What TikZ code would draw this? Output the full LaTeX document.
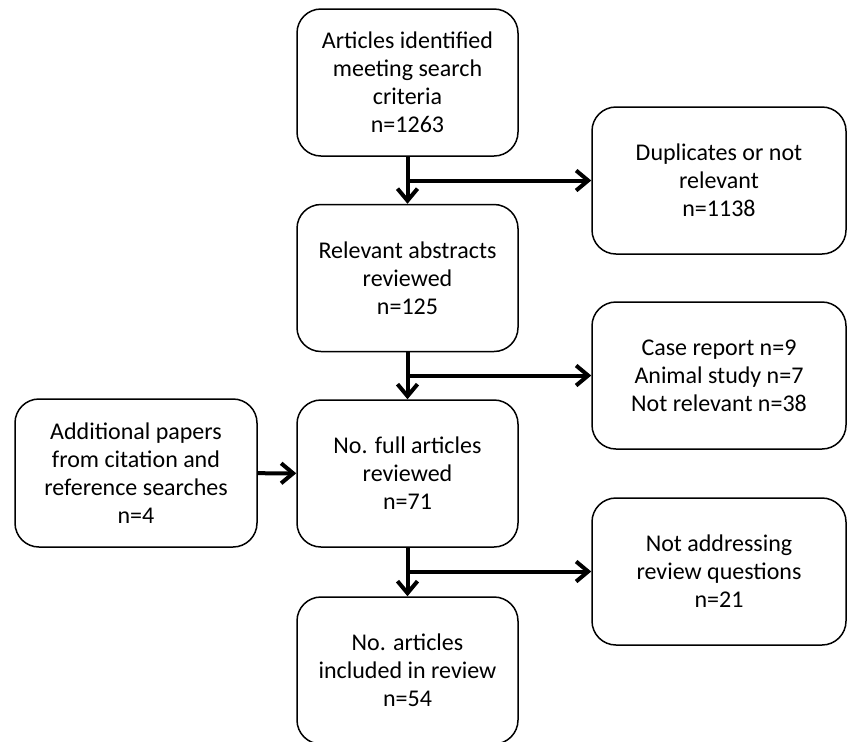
\documentclass[tikz,border=0pt]{standalone}
\usepackage{fontspec}
\setmainfont{Carlito}
\usetikzlibrary{arrows.meta}

\tikzset{
  box/.style={draw, line width=0.75pt, rounded corners=12pt, align=center,
    minimum width=110.5pt, minimum height=73.5pt, inner sep=2pt,
    font=\fontsize{12}{14}\selectfont},
  sidebox/.style={box, minimum width=127pt},
  flow/.style={line width=2pt, -{Straight Barb[length=6pt,width=10pt]}}
}

\begin{document}
\begin{tikzpicture}[x=0.5pt,y=-0.5pt]
  \useasboundingbox (0,0) rectangle (847,741);
  % main column
  \node[box] (found) at (407.5,82.5) {Articles identified\\meeting search\\criteria\\n=1263};
  \node[box] (abstr) at (407.5,278) {Relevant abstracts\\reviewed\\n=125};
  \node[box] (full) at (407.5,473.5) {No. full articles\\reviewed\\n=71};
  \node[box] (incl) at (407.5,670.5) {No. articles\\included in review\\n=54};
  % excluded
  \node[sidebox] (dupl) at (719,180.5) {Duplicates or not\\relevant\\n=1138};
  \node[sidebox] (case) at (719,375.5) {Case report n=9\\Animal study n=7\\Not relevant n=38};
  \node[sidebox] (notq) at (719,571.5) {Not addressing\\review questions\\n=21};
  % extra papers
  \node[box, minimum width=121pt, minimum height=74pt] (addl) at (136,473) {Additional papers\\from citation and\\reference searches\\n=4};

  \draw[flow] (found) -- (abstr);
  \draw[flow] (abstr) -- (full);
  \draw[flow] (full) -- (incl);
  \draw[flow] (found.south |- dupl.west) -- (dupl.west);
  \draw[flow] (abstr.south |- case.west) -- (case.west);
  \draw[flow] (full.south |- notq.west) -- (notq.west);
  \draw[flow] (addl) -- (full);
\end{tikzpicture}
\end{document}
